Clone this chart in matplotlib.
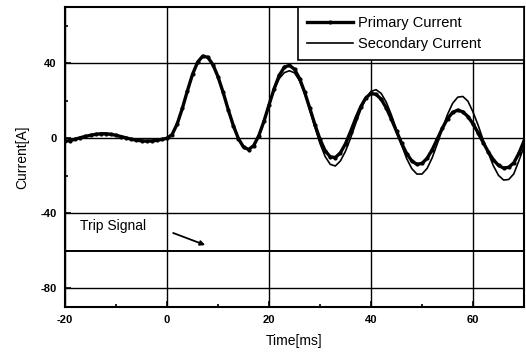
import numpy as np
import matplotlib
matplotlib.use("Agg")
import matplotlib.pyplot as plt
from matplotlib.ticker import MultipleLocator

plt.rcParams['font.family'] = ['Liberation Sans', 'DejaVu Sans']
plt.rcParams['axes.unicode_minus'] = False

# sampled waveforms, 1 ms steps from -20 to 70 ms
time = np.arange(-20, 71, 1)

primary = [
    -1.6, -1.2, -0.5, 0.3, 1.0, 1.6, 2.1, 2.4, 2.4, 2.1,
    1.6, 0.9, 0.2, -0.5, -1.0, -1.4, -1.5, -1.4, -1.1, -0.6,
    0.0, 2.0, 7.7, 15.9, 25.3, 34.1, 40.6, 43.8, 43.2, 39.3,
    32.8, 24.5, 15.3, 6.8, -0.2, -4.7, -6.0, -3.9, 1.4, 9.0,
    17.8, 26.4, 33.5, 37.9, 38.9, 36.8, 31.8, 24.5, 16.0, 7.3,
    -0.6, -6.6, -9.9, -10.3, -7.8, -2.9, 3.6, 10.6, 16.9, 21.6,
    23.9, 23.4, 20.8, 16.2, 10.2, 3.7, -2.7, -8.2, -12.1, -13.9,
    -13.4, -10.7, -6.1, -0.4, 5.4, 10.4, 13.8, 15.0, 14.1, 11.6,
    7.7, 2.9, -2.3, -7.3, -11.5, -14.5, -15.9, -15.5, -13.1, -8.0,
    -1.5,
]

secondary = [
    -1.6, -1.2, -0.5, 0.3, 1.0, 1.6, 2.1, 2.4, 2.4, 2.1,
    1.6, 0.9, 0.2, -0.5, -1.0, -1.4, -1.5, -1.4, -1.1, -0.6,
    0.0, 2.0, 7.7, 15.9, 25.3, 34.1, 40.6, 43.8, 43.2, 39.3,
    32.8, 24.5, 15.3, 6.8, -0.2, -4.7, -6.0, -3.9, 1.4, 9.0,
    17.5, 25.8, 31.8, 35.0, 36.0, 34.9, 30.7, 23.8, 15.1, 5.9,
    -2.8, -9.7, -13.9, -14.8, -12.1, -6.9, 0.1, 7.9, 15.3, 21.3,
    25.0, 25.9, 23.9, 19.2, 12.4, 4.5, -3.6, -10.9, -16.2, -19.1,
    -19.1, -16.1, -10.4, -2.9, 5.2, 12.7, 18.6, 21.9, 22.3, 19.8,
    14.0, 7.0, -1.0, -7.9, -14.7, -19.8, -22.3, -22.0, -19.0, -12.0,
    -4.5,
]

trip_signal = [-60] * len(time)

fig = plt.figure(figsize=(5.26, 3.58), dpi=100)
ax = fig.add_axes([0.1236, 0.1425, 0.8726, 0.8379])

ax.plot(time, trip_signal, color='black', lw=1.4)
ax.plot(time, secondary, color='black', lw=1.2, label='Secondary Current')
ax.plot(time, primary, color='black', lw=2.4, marker='o', ms=2.0,
        label='Primary Current')

ax.set_xlim(-20, 70)
ax.set_ylim(-90, 70)
ax.xaxis.set_major_locator(MultipleLocator(20))
ax.xaxis.set_minor_locator(MultipleLocator(10))
ax.yaxis.set_major_locator(MultipleLocator(40))
ax.yaxis.set_minor_locator(MultipleLocator(20))
ax.grid(True, which='major', color='black', lw=1.0)
ax.tick_params(which='both', direction='in', width=1.2)
ax.tick_params(which='major', length=4, labelsize=8, pad=6)
ax.tick_params(which='minor', length=2)
for lab in ax.get_xticklabels() + ax.get_yticklabels():
    lab.set_fontweight('bold')
for sp in ax.spines.values():
    sp.set_linewidth(1.5)

ax.set_xlabel('Time[ms]', fontsize=10, labelpad=6)
ax.set_ylabel('Current[A]', fontsize=10, labelpad=8)

ax.annotate('', xy=(8, -57.5), xytext=(0.7, -50),
            arrowprops=dict(arrowstyle='-|>', color='black', lw=1.3,
                            mutation_scale=7))
ax.text(-17, -47, 'Trip Signal', fontsize=10, va='center', ha='left')

handles, labels = ax.get_legend_handles_labels()
leg = ax.legend(handles[::-1], labels[::-1], loc='upper right',
                bbox_to_anchor=(0.5076, 0, 0.4924, 1), mode='expand',
                fontsize=10.5, fancybox=False, edgecolor='black',
                framealpha=1, borderaxespad=0, handlelength=3.2,
                handletextpad=0.3, borderpad=0.6, labelspacing=0.5)
leg.get_frame().set_linewidth(1.2)
leg._legend_box.align = 'left'

fig.savefig('out.png', dpi=100)
